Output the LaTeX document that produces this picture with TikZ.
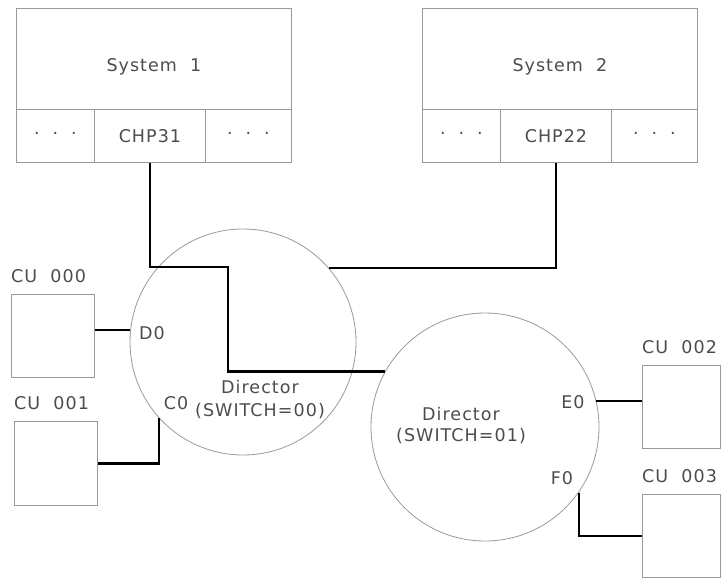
\documentclass[tikz,border=0pt]{standalone}
\usepackage{fontspec}
\setmainfont{DejaVu Sans}[LetterSpace=6]
\usetikzlibrary{calc}

\begin{document}
\begin{tikzpicture}[x=1pt, y=-1pt,
  box/.style={draw=gray!80, line width=0.9, inner sep=0, anchor=north west,
    text=black!70, font=\fontsize{17.5}{21}\selectfont},
  lbl/.style={text=black!70, inner sep=0, font=\fontsize{17.5}{21}\selectfont},
  dir/.style={circle, draw=gray!80, line width=0.8, inner sep=0},
  link/.style={black, line width=2.2}]
\useasboundingbox (0,0) rectangle (721,579);

% systems and their channel paths
\foreach \n/\sx/\ch in {1/16/CHP31, 2/422/CHP22} {
  \node[box, minimum width=275, minimum height=101] (sys\n) at (\sx,8) {};
  \node[lbl] (sys\n-txt) at ($(sys\n.center)+(0,8)$) {System\ \ \n};
  \node[box, minimum width=78, minimum height=53] (dots\n-a) at (\sx,109)
    {\textperiodcentered\hspace{13pt}\textperiodcentered\hspace{13pt}\textperiodcentered};
  \node[box, minimum width=111, minimum height=53] (chp\n) at (\sx+78,109) {\ch};
  \node[box, minimum width=86, minimum height=53] (dots\n-b) at (\sx+189,109)
    {\textperiodcentered\hspace{13pt}\textperiodcentered\hspace{13pt}\textperiodcentered};
}

% directors
\node[dir, minimum size=226] (dir0) at (243,342) {};
\node[dir, minimum size=228] (dir1) at (485,427) {};
\node[lbl, align=center] (dir0-txt) at (260,399) {Director\\[2pt](SWITCH=00)};
\node[lbl, align=center] (dir1-txt) at (461,425) {Director\\[0pt](SWITCH=01)};

% control units
\node[box, minimum width=83, minimum height=83] (cu0) at (11,294) {};
\node[box, minimum width=83, minimum height=84] (cu1) at (14,421) {};
\node[box, minimum width=78, minimum height=83] (cu2) at (642,365) {};
\node[box, minimum width=78, minimum height=83] (cu3) at (642,494) {};
\foreach \u in {0,...,3}
  \node[lbl, anchor=south west] (cu\u-lbl) at ([yshift=11pt]cu\u.north west) {CU\ \ 00\u};

% ports
\node[lbl] (port-d0) at (152,333) {D0};
\node[lbl] (port-c0) at (176,403) {C0};
\node[lbl] (port-e0) at (573,402) {E0};
\node[lbl] (port-f0) at (562,478) {F0};

% links
\coordinate (j1) at (228,267);
\draw[link] (chp1.south) |- (j1) |- (dir1.151);
\draw[link] (chp2.south) |- (dir0.41);
\draw[link] (dir0.174) -- (dir0.174 -| cu0.east);
\draw[link] (cu1.east) -| (dir0.222);
\draw[link] (dir1.13) -- (dir1.13 -| cu2.west);
\draw[link] (dir1.325) |- (cu3.west);
\end{tikzpicture}
\end{document}
